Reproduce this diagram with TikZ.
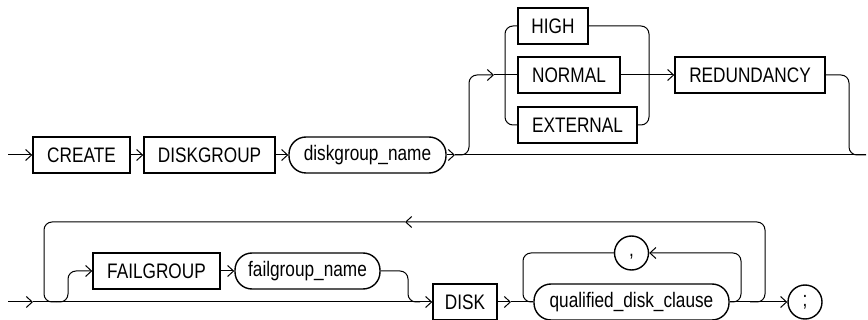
\documentclass[tikz,border=0pt]{standalone}
\usepackage{fontspec}
\newfontfamily\rrfont[FakeStretch=0.82]{Liberation Sans}
\usetikzlibrary{arrows.meta}
\tikzset{
  rrtext/.style={font=\rrfont\fontsize{21}{25}\selectfont},
  kw/.style={draw, line width=1.4pt, minimum height=36pt, inner sep=0pt, rrtext},
  nt/.style={kw, rounded corners=17pt},
  ch/.style={draw, circle, line width=1.4pt, minimum size=34pt, inner sep=0pt, rrtext},
  conn/.style={line width=1pt, rounded corners=8pt},
  arr/.style={conn, -{Straight Barb[length=6pt,width=11pt,line width=1pt]}}
}
\begin{document}
\begin{tikzpicture}[x=1pt,y=-1pt]
\useasboundingbox (0,0) rectangle (868,320);
% top row nodes
\node[kw, minimum width=97pt]  (create) at (81.5,155) {CREATE};
\node[kw, minimum width=131pt] (dg)     at (209.5,155) {DISKGROUP};
\node[nt, minimum width=157pt] (dgn)    at (367.5,155) {diskgroup\_name};
\node[kw, minimum width=70pt]  (high)   at (553,26) {HIGH};
\node[kw, minimum width=102pt] (normal) at (569,75) {NORMAL};
\node[kw, minimum width=119pt] (ext)    at (577.5,125) {EXTERNAL};
\node[kw, minimum width=150pt] (red)    at (750,75) {REDUNDANCY};
% top row coordinates
\coordinate (s1) at (8,155);
\coordinate (a1) at (455,155);
\coordinate (e1) at (866,155);
\coordinate (b1) at (469,155);
\coordinate (b2) at (469,75);
\coordinate (a2) at (494,75);
\coordinate (l1) at (505,26);
\coordinate (l2) at (505,125);
\coordinate (r1) at (649,26);
\coordinate (r2) at (649,125);
\coordinate (d1) at (849,75);
\coordinate (d2) at (849,155);
% top row connectors
\draw[arr] (s1) -- (create.west);
\draw[arr] (create.east) -- (dg.west);
\draw[arr] (dg.east) -- (dgn.west);
\draw[arr] (dgn.east) -- (a1);
\draw[conn] (a1) -- (e1);
\draw[arr] (a1) -- (b1) -- (b2) -- (a2);
\draw[conn] (a2) -- (normal.west);
\draw[conn] (high.west) -- (l1) -- (l2) -- (ext.west);
\draw[conn] (high.east) -- (r1) -- (r2) -- (ext.east);
\draw[arr] (normal.east) -- (red.west);
\draw[conn] (red.east) -- (d1) -- (d2) -- (e1);
% bottom row nodes
\node[kw, minimum width=127pt] (fg)   at (156.5,271) {FAILGROUP};
\node[nt, minimum width=145pt] (fgn)  at (307.5,271) {failgroup\_name};
\node[kw, minimum width=64pt]  (disk) at (465,302) {DISK};
\node[nt, minimum width=195pt] (qdc)  at (631.5,302) {qualified\_disk\_clause};
\node[ch, text height=8pt, text depth=0pt] (comma) at (631.5,253) {,};
\node[ch] (semi)  at (805,302) {;};
% bottom row coordinates
\coordinate (s2) at (8,302);
\coordinate (a3) at (33,302);
\coordinate (j1) at (56,302);
\coordinate (u1) at (68,302);
\coordinate (u2) at (68,271);
\coordinate (v1) at (408,271);
\coordinate (v2) at (408,302);
\coordinate (v3) at (420,302);
\coordinate (a4) at (511,302);
\coordinate (i1) at (741,302);
\coordinate (i2) at (741,253);
\coordinate (i3) at (523,253);
\coordinate (i4) at (523,302);
\coordinate (o1) at (750,302);
\coordinate (o2) at (765,302);
\coordinate (o3) at (765,222);
\coordinate (a5) at (405,222);
\coordinate (o4) at (44,222);
\coordinate (o5) at (44,302);
% bottom row connectors
\draw[arr] (s2) -- (a3);
\draw[arr] (a3) -- (disk.west);
\draw[arr] (j1) -- (u1) -- (u2) -- (fg.west);
\draw[arr] (fg.east) -- (fgn.west);
\draw[conn] (fgn.east) -- (v1) -- (v2) -- (v3);
\draw[arr] (disk.east) -- (a4);
\draw[conn] (a4) -- (qdc.west);
\draw[arr] (qdc.east) -- (semi.west);
\draw[arr] (qdc.east) -- (i1) -- (i2) -- (comma.east);
\draw[conn] (comma.west) -- (i3) -- (i4) -- (qdc.west);
\draw[arr] (o1) -- (o2) -- (o3) -- (a5);
\draw[conn] (a5) -- (o4) -- (o5) -- (j1);
\end{tikzpicture}
\end{document}
